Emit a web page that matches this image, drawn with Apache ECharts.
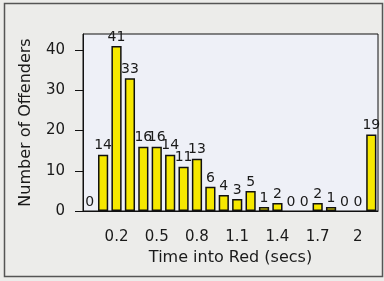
<!DOCTYPE html>
<html>
<head>
<meta charset="utf-8">
<script src="https://cdn.jsdelivr.net/npm/echarts@6/dist/echarts.min.js"></script>
<style>
	html, body { margin: 0; padding: 0; background: #ececea; }
	#chart-1 { width: 384px; height: 281px; }
</style>
</head>
<body>
<div id="chart-1"></div>
<script>
// time into red, in 0.1 s bins
var categories = ['0', '0.1', '0.2', '0.3', '0.4', '0.5', '0.6', '0.7', '0.8', '0.9', '1',
	'1.1', '1.2', '1.3', '1.4', '1.5', '1.6', '1.7', '1.8', '1.9', '2', '2.1'];
var offenders = [0, 14, 41, 33, 16, 16, 14, 11, 13, 6, 4, 3, 5, 1, 2, 0, 0, 2, 1, 0, 0, 19];
var yTicks = [0, 10, 20, 30, 40];

var font = 'DejaVu Sans';

var myChart = echarts.init(document.getElementById('chart-1'));

function showEvery3(index) {
	return index % 3 === 2 && index < 21;
}

// empty bins get no outline, only their "0" label
var barData = offenders.map(function(v) {
	return v === 0 ? { value: v, itemStyle: { borderWidth: 0 } } : v;
});

var option = {
	backgroundColor: '#ececea',
	animation: false,
	graphic: [{
		type: 'rect',
		shape: { x: 4.5, y: 3.5, width: 378, height: 273 },
		style: { fill: 'none', stroke: '#555', lineWidth: 1.5 },
		z: -1
	}],
	grid: {
		left: 83,
		right: 6,
		top: 34,
		bottom: 70,
		show: true,
		backgroundColor: '#eef0f7',
		borderColor: '#111',
		borderWidth: 1
	},
	xAxis: {
		type: 'category',
		data: categories,
		name: 'Time into Red (secs)',
		nameLocation: 'middle',
		nameGap: 39,
		nameTextStyle: { fontFamily: font, fontSize: 16, color: '#1a1a1a' },
		axisLine: { lineStyle: { color: '#111', width: 1 } },
		axisTick: {
			alignWithLabel: true,
			interval: showEvery3,
			length: 8,
			lineStyle: { color: '#111' }
		},
		axisLabel: {
			interval: showEvery3,
			margin: 19,
			fontFamily: font,
			fontSize: 15,
			color: '#1a1a1a'
		},
		splitLine: { show: false }
	},
	yAxis: {
		type: 'value',
		min: 0,
		max: 44,
		interval: 10,
		name: 'Number of Offenders',
		nameLocation: 'middle',
		nameGap: 49,
		nameTextStyle: { fontFamily: font, fontSize: 16, color: '#1a1a1a' },
		axisLine: { show: true, lineStyle: { color: '#111', width: 1 } },
		axisTick: { show: true, length: 8, lineStyle: { color: '#111' } },
		axisLabel: {
			margin: 18,
			fontFamily: font,
			fontSize: 15,
			color: '#1a1a1a',
			showMaxLabel: false,
			formatter: function(v) {
				return yTicks.indexOf(v) >= 0 ? String(v) : '';
			}
		},
		splitLine: { show: false }
	},
	series: [{
		name: 'Offenders',
		type: 'bar',
		data: barData,
		barCategoryGap: '24%',
		itemStyle: {
			color: '#f6e800',
			borderColor: '#111',
			borderWidth: 1.5
		},
		label: {
			show: true,
			position: 'top',
			distance: 2,
			fontFamily: font,
			fontSize: 14,
			color: '#1a1a1a'
		}
	}]
};

myChart.setOption(option);
</script>
</body>
</html>
